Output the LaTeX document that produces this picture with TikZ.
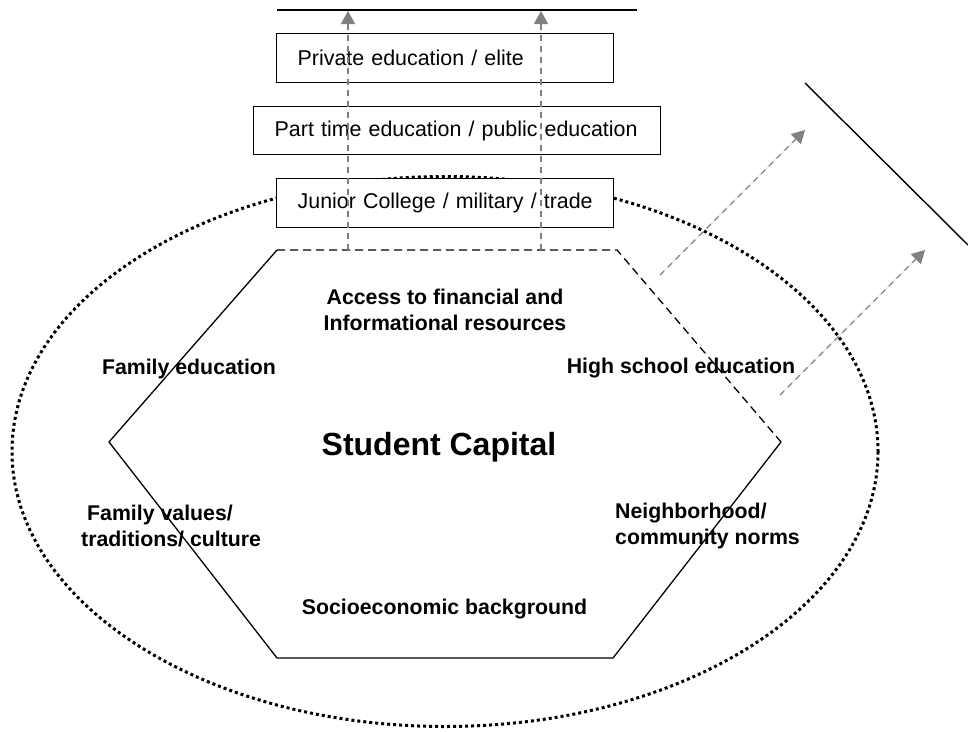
\documentclass[tikz,border=0pt]{standalone}
\usepackage{fontspec}
\setmainfont{Liberation Sans}
\usetikzlibrary{arrows.meta}
\definecolor{arrowgray}{RGB}{128,128,128}
\begin{document}
\begin{tikzpicture}[x=1pt,y=-1pt,
  lbl/.style={font=\fontsize{21.3}{26}\selectfont\bfseries, inner sep=0pt},
  boxnode/.style={draw, line width=1.4pt, fill=white, font=\fontsize{21.4}{26}\selectfont,
    inner xsep=21pt, inner ysep=0pt, align=left, anchor=north west, minimum height=49pt},
  garrow/.style={draw=arrowgray, line width=1.3pt, dash pattern=on 6pt off 5pt,
    -{Triangle[length=13pt,width=14pt]}, fill=arrowgray},
  hexsolid/.style={line width=1.3pt, line join=miter},
  hexdash/.style={line width=1.3pt, dash pattern=on 8pt off 5pt},
  dotring/.style={line width=3pt, dash pattern=on 3pt off 3pt}
]
\useasboundingbox (0,0) rectangle (968,731);

% dotted ellipse
\draw[dotring] (445,451.5) ellipse [x radius=433, y radius=275];

% hexagon
\coordinate (hTL) at (277,250);
\coordinate (hTR) at (617,250);
\coordinate (hR) at (781,442);
\coordinate (hBR) at (613,658);
\coordinate (hBL) at (277,658);
\coordinate (hL) at (109,442);
\draw[hexsolid] (hR) -- (hBR) -- (hBL) -- (hL) -- (hTL);
\draw[hexdash] (hTL) -- (hTR) -- (hR);

% boxes
\node[boxnode, text width=295pt] (b1) at (276,33) {Private education / elite};
\node[boxnode, text width=365pt, minimum height=48pt] (b2) at (253,106) {Part time education / public education};
\node[boxnode, text width=295pt] (b3) at (276,178) {Junior College / military / trade};

% top line
\coordinate (tl1) at (277,10);
\coordinate (tl2) at (637,10);
\draw[line width=1.4pt] (tl1) -- (tl2);

% right slanted line
\coordinate (sl1) at (805,83);
\coordinate (sl2) at (968,245);
\draw[line width=1.4pt] (sl1) -- (sl2);

% vertical arrows
\coordinate (va1s) at (348,250);
\coordinate (va1e) at (348,11);
\coordinate (va2s) at (541,250);
\coordinate (va2e) at (541,11);
\draw[garrow] (va1s) -- (va1e);
\draw[garrow] (va2s) -- (va2e);

% diagonal arrows
\coordinate (da1s) at (660,275);
\coordinate (da1e) at (805,130);
\coordinate (da2s) at (780,395);
\coordinate (da2e) at (925,250);
\draw[garrow] (da1s) -- (da1e);
\draw[garrow] (da2s) -- (da2e);

% labels
\node[lbl, align=center] (acc) at (445,310) {Access to financial and\\Informational resources};
\node[lbl] (fedu) at (189,369) {Family education};
\node[lbl] (hs) at (681,368) {High school education};
\node[lbl, font=\fontsize{32}{38}\selectfont\bfseries] (sc) at (439,447) {Student Capital};
\node[lbl, align=left, anchor=west] (fval) at (81,526) {\hspace*{6pt}Family values/\\traditions/ culture};
\node[lbl, align=left, anchor=west] (nb) at (615,526) {Neighborhood/\\community norms};
\node[lbl] (soc) at (444.5,609) {Socioeconomic background};
\end{tikzpicture}
\end{document}
